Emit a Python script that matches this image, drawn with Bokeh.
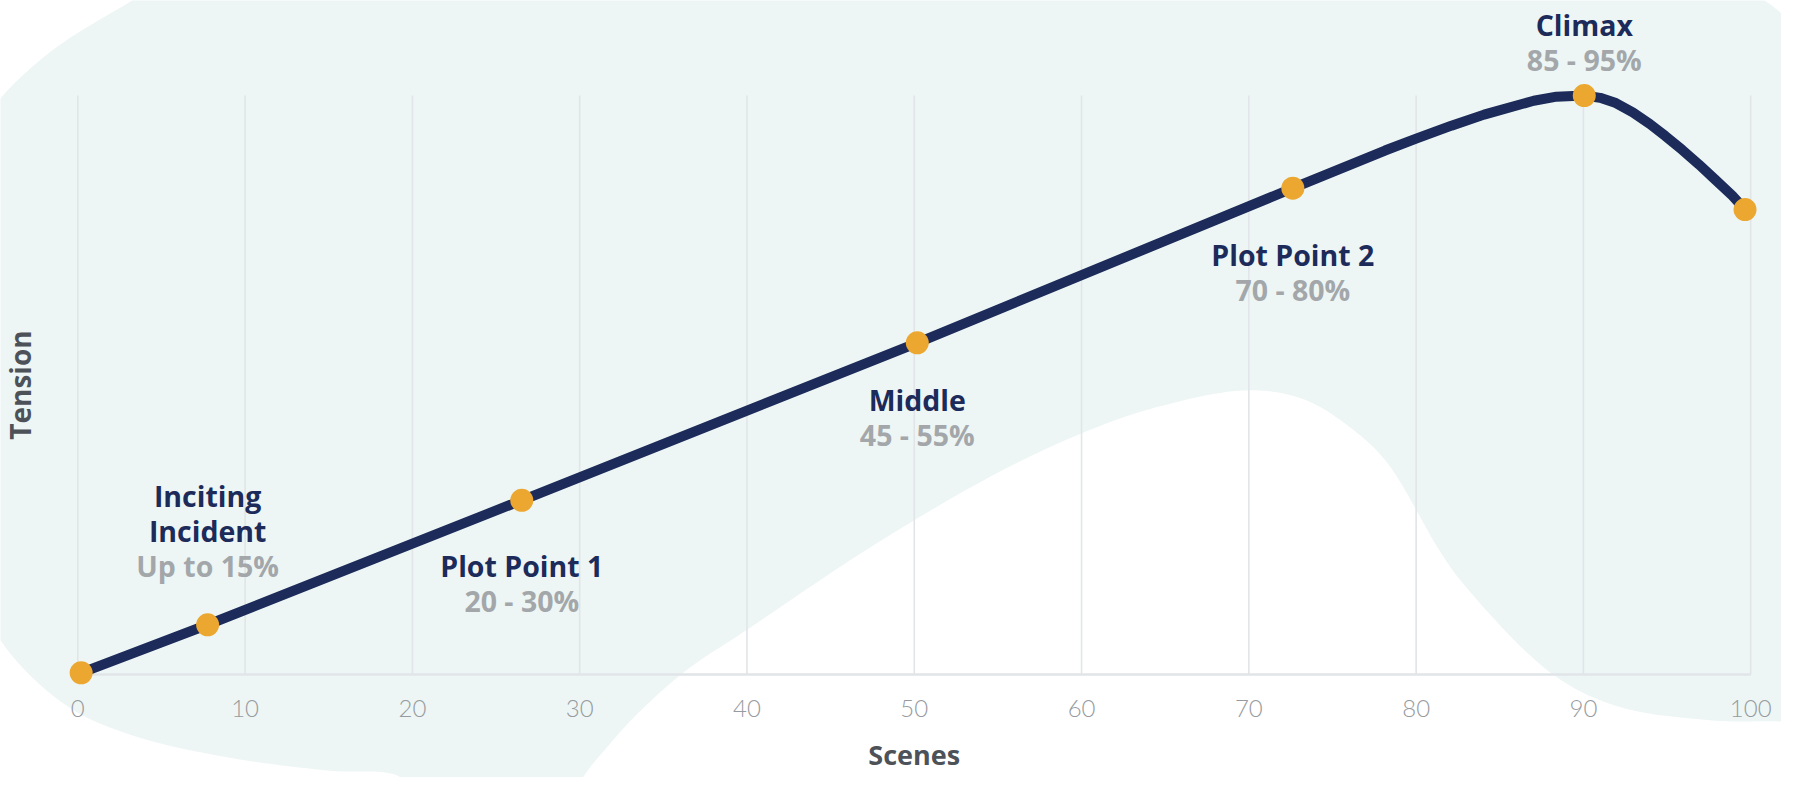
import math
from bokeh.plotting import figure
from bokeh.models import Range1d, ColumnDataSource
from bokeh.core.properties import value
from bokeh.embed import file_html
from bokeh.resources import INLINE

# ---------------- data ----------------
x_ticks = [0, 10, 20, 30, 40, 50, 60, 70, 80, 90, 100]
x_tick_labels = ["0", "10", "20", "30", "40", "50", "60", "70", "80", "90", "100"]

milestone_names = [["Inciting", "Incident"], ["Plot Point 1"], ["Middle"], ["Plot Point 2"], ["Climax"]]
milestone_ranges = ["Up to 15%", "20 - 30%", "45 - 55%", "70 - 80%", "85 - 95%"]
milestone_x = [7.76, 26.54, 50.18, 72.63, 90.05]
milestone_t = [8.6, 30.1, 57.3, 84.0, 100.0]

start_x, start_t = 0.2, 0.3
end_x, end_t = 99.66, 80.3

curve_x = [0.2, 7.76, 26.54, 50.18, 72.63, 78.14, 80.04, 82.11, 84.06, 87.03, 88.39, 90.05,
           91.0, 91.94, 92.95, 93.96, 94.9, 95.91, 96.9, 97.87, 98.9, 99.66]
curve_t = [0.3, 8.6, 30.1, 57.3, 84.0, 90.5, 92.6, 94.8, 96.7, 99.1, 99.8, 100.0,
           99.6, 98.7, 97.1, 95.1, 93.0, 90.6, 88.1, 85.5, 82.7, 80.3]

# decorative background blob outline (scene / tension units)
blob_x = [-4.62, -2.67, -0.65, 3.26, 7.23, 50.0, 96.09, 99.64, 100.83, 101.84, 104.38,
          104.38, 101.84, 97.87, 91.94, 88.03, 82.7, 81.34, 78.32, 76.36, 73.4, 70.02,
          64.51, 59.95, 54.62, 47.22, 39.93, 36.4, 33.3, 30.92, 29.15, 24.0, 20.26, 19.08,
          15.11, 9.18, 3.26, -0.65, -4.62, -6.99, -7.5, -6.99]
blob_t = [99.5, 105.1, 109.6, 116.4, 123.2, 125.0, 123.2, 118.1, 116.4, 114.2, 108.0,
          -8.8, -8.1, -7.95, -5.4, 0.34, 16.1, 21.7, 36.4, 42.0, 47.4, 49.1,
          46.2, 41.6, 34.3, 21.7, 7.6, 0.8, -7.2, -14.9, -20.6, -21.5, -20.6, -17.4,
          -16.6, -14.4, -10.5, -5.4, 5.9, 21.7, 55.0, 89.3]

# ---------------- style ----------------
NAVY = "#1c2b59"
ORANGE = "#eba730"
GRAY_PCT = "#a3a7aa"
GRAY_TICK = "#979b9f"
GRID = "#e1e5e7"
TEAL = "#edf6f5"
TITLE = "#4d5259"
BOLD_FONT = value("Open Sans")
TICK_FONT = value("'Lato Light', Lato")

PX_X, PX_Y = 16.7, 5.8  # approx pixels per data unit (for smoothing metric only)


def smooth_closed(xs, ys, n=12, alpha=0.5):
    # centripetal Catmull-Rom smoothing of the decorative outline
    pts = [(x * PX_X, y * PX_Y) for x, y in zip(xs, ys)]
    m = len(pts)
    ox, oy = [], []
    for i in range(m):
        P = [pts[(i - 1) % m], pts[i], pts[(i + 1) % m], pts[(i + 2) % m]]
        tk = [0.0]
        for j in range(3):
            d = math.hypot(P[j + 1][0] - P[j][0], P[j + 1][1] - P[j][1])
            tk.append(tk[-1] + max(d, 1e-6) ** alpha)
        t0, t1, t2, t3 = tk
        for k in range(n):
            t = t1 + (t2 - t1) * k / n

            def lerp(a, b, ta, tb):
                return ((tb - t) / (tb - ta) * a[0] + (t - ta) / (tb - ta) * b[0],
                        (tb - t) / (tb - ta) * a[1] + (t - ta) / (tb - ta) * b[1])
            A1 = lerp(P[0], P[1], t0, t1)
            A2 = lerp(P[1], P[2], t1, t2)
            A3 = lerp(P[2], P[3], t2, t3)
            B1 = lerp(A1, A2, t0, t2)
            B2 = lerp(A2, A3, t1, t3)
            C = lerp(B1, B2, t1, t2)
            ox.append(C[0] / PX_X)
            oy.append(C[1] / PX_Y)
    return ox, oy


p = figure(width=1781, height=777,
           x_range=Range1d(-4.621, 101.84), y_range=Range1d(-17.77, 116.41),
           x_axis_type=None, y_axis_type=None,
           toolbar_location=None, output_backend="svg",
           min_border=0, outline_line_color=None,
           background_fill_color="white", border_fill_color="white")
p.grid.visible = False

bx, by = smooth_closed(blob_x, blob_t)
p.patch(bx, by, fill_color=TEAL, line_color=None)

# grid lines and baseline
p.segment(x0=x_ticks, y0=[0] * len(x_ticks), x1=x_ticks, y1=[100] * len(x_ticks),
          line_color=GRID, line_width=1.6)
p.segment(x0=[x_ticks[0]], y0=[0], x1=[x_ticks[-1]], y1=[0], line_color=GRID, line_width=2.5)

# tick labels
p.text(x=x_ticks, y=[0] * len(x_ticks), text=x_tick_labels, y_offset=34,
       text_align="center", text_baseline="middle", text_color=GRAY_TICK,
       text_font=TICK_FONT, text_font_size="24px")

# axis titles
p.text(x=[50], y=[0], text=["Scenes"], y_offset=80, text_align="center", text_baseline="middle",
       text_color=TITLE, text_font=BOLD_FONT, text_font_style="bold", text_font_size="27px")
p.text(x=[-3.45], y=[50], text=["Tension"], angle=math.pi / 2, text_align="center",
       text_baseline="middle", text_color=TITLE, text_font=BOLD_FONT,
       text_font_style="bold", text_font_size="28px")

# curve
p.line(curve_x, curve_t, line_color=NAVY, line_width=10, line_join="round", line_cap="round")

pts_x = [start_x] + milestone_x + [end_x]
pts_t = [start_t] + milestone_t + [end_t]
p.scatter(pts_x, pts_t, size=23, fill_color=ORANGE, line_color=None)

# milestone labels
name_offsets = [-129, 66, 57, 67, -71]
gap = 35
lx, lt, ltext, loff, lcol = [], [], [], [], []
for i, names in enumerate(milestone_names):
    off = name_offsets[i]
    for nm in names:
        lx.append(milestone_x[i]); lt.append(milestone_t[i]); ltext.append(nm)
        loff.append(off); lcol.append(NAVY)
        off += gap
    lx.append(milestone_x[i]); lt.append(milestone_t[i]); ltext.append(milestone_ranges[i])
    loff.append(off); lcol.append(GRAY_PCT)

src = ColumnDataSource(dict(x=lx, y=lt, text=ltext, off=loff, col=lcol))
p.text(x="x", y="y", text="text", y_offset="off", text_color="col", source=src,
       text_align="center", text_baseline="middle", text_font=BOLD_FONT,
       text_font_style="bold", text_font_size="28.5px")

open("out.html", "w").write(file_html(p, INLINE))
